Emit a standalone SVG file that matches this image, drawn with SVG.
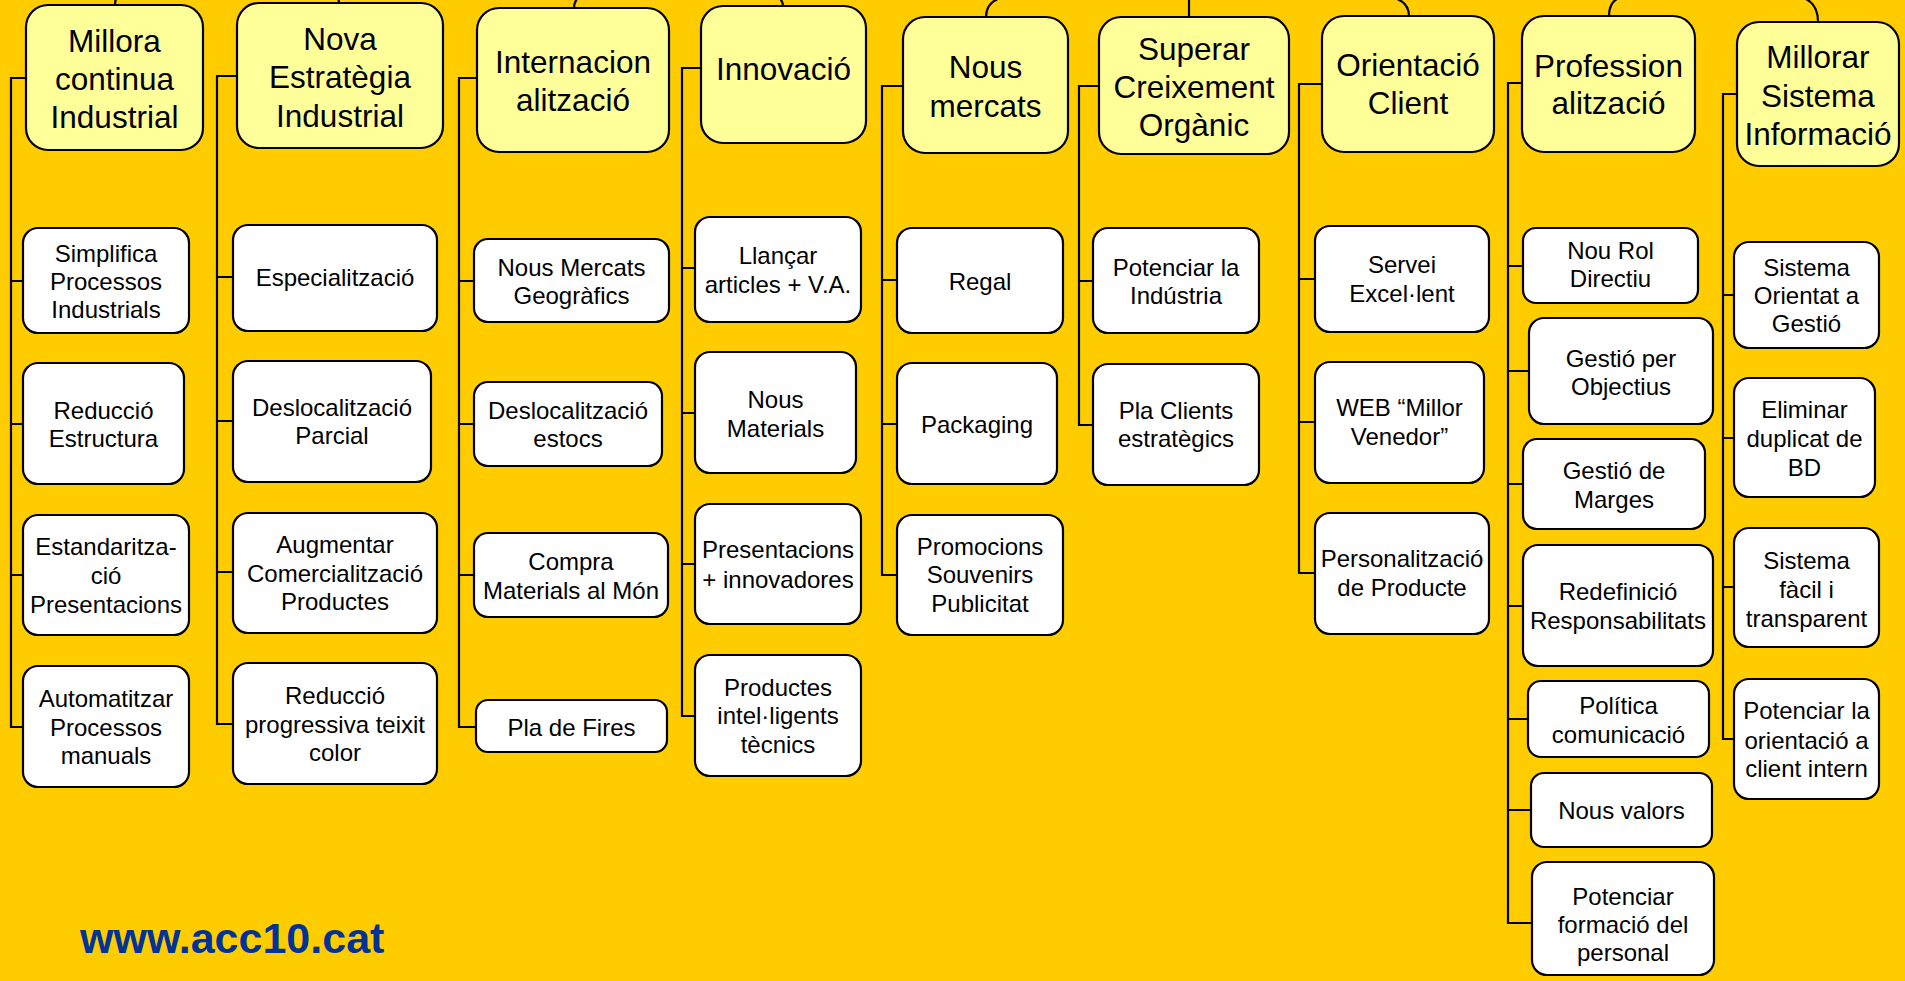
<svg xmlns="http://www.w3.org/2000/svg" width="1905" height="981" viewBox="0 0 1905 981">
  <style>
    .head rect { fill: #FFFF99; stroke: #000; stroke-width: 2.2; }
    .head text { font-family: "Liberation Sans", Arial, sans-serif; font-size: 31.5px; fill: #000; text-anchor: middle; }
    .leaf rect { fill: #FFFFFF; stroke: #000; stroke-width: 2.2; }
    .leaf text { font-family: "Liberation Sans", Arial, sans-serif; font-size: 24px; fill: #000; text-anchor: middle; }
    .wire { fill: none; stroke: #000; stroke-width: 2.2; }
    .footer { font-family: "Liberation Sans", Arial, sans-serif; font-size: 43px; font-weight: bold; fill: #003399; }
  </style>

  <rect x="0" y="0" width="1905" height="981" fill="#FFCC00"/>

  <!-- connectors -->
  <g id="connectors" class="wire">
    <!-- stubs running up to the parent level -->
    <path d="M115 5 Q115 0 117 -3"/>
    <path d="M339 3 Q339 0 337 -3"/>
    <path d="M574 8 Q574 0 581 -5"/>
    <path d="M783 6 Q783 0 776 -5"/>
    <path d="M986 17 Q986 1 1004 -3"/>
    <path d="M1189 17 V-2"/>
    <path d="M1409 16 Q1409 1 1391 -3"/>
    <path d="M1609 16 Q1609 1 1621 -3"/>
    <path d="M1818 22 Q1818 2 1801 -3"/>
    <!-- column trees -->
    <path d="M26 78 H11 V727 H23 M11 281 H23 M11 424 H23 M11 575 H23"/>
    <path d="M237 76 H217 V724 H233 M217 277 H233 M217 421 H233 M217 572 H233"/>
    <path d="M477 78 H459 V727 H476 M459 281 H474 M459 424 H474 M459 575 H474"/>
    <path d="M701 68 H682 V716 H695 M682 268 H695 M682 413 H695 M682 564 H695"/>
    <path d="M903 86 H882 V575 H897 M882 280 H897 M882 424 H897"/>
    <path d="M1099 86 H1079 V425 H1093 M1079 281 H1093"/>
    <path d="M1322 84 H1299 V573 H1315 M1299 279 H1315 M1299 422 H1315"/>
    <path d="M1522 83 H1508 V923 H1532 M1508 266 H1523 M1508 371 H1529 M1508 484 H1523 M1508 606 H1523 M1508 719 H1528 M1508 810 H1531"/>
    <path d="M1737 94 H1723 V739 H1734 M1723 295 H1734 M1723 438 H1734 M1723 587 H1734"/>
  </g>

  <!-- top-level headings -->
  <g id="h-millora" class="head">
    <rect x="26" y="5" width="177" height="145" rx="22"/>
    <text x="114.5"><tspan y="52" x="114.5">Millora</tspan><tspan y="90" x="114.5">continua</tspan><tspan y="128" x="114.5">Industrial</tspan></text>
  </g>
  <g id="h-nova" class="head">
    <rect x="237" y="3" width="206" height="145" rx="22"/>
    <text x="340"><tspan y="50" x="340">Nova</tspan><tspan y="88" x="340">Estratègia</tspan><tspan y="127" x="340">Industrial</tspan></text>
  </g>
  <g id="h-internacionalitzacio" class="head">
    <rect x="477" y="8" width="192" height="144" rx="22"/>
    <text x="573"><tspan y="73" x="573">Internacion</tspan><tspan y="111" x="573">alització</tspan></text>
  </g>
  <g id="h-innovacio" class="head">
    <rect x="701" y="6" width="165" height="137" rx="22"/>
    <text x="783.5" y="80">Innovació</text>
  </g>
  <g id="h-nous-mercats" class="head">
    <rect x="903" y="17" width="165" height="136" rx="22"/>
    <text x="985.5"><tspan y="78" x="985.5">Nous</tspan><tspan y="117" x="985.5">mercats</tspan></text>
  </g>
  <g id="h-superar" class="head">
    <rect x="1099" y="17" width="190" height="137" rx="22"/>
    <text x="1194"><tspan y="60" x="1194">Superar</tspan><tspan y="98" x="1194">Creixement</tspan><tspan y="136" x="1194">Orgànic</tspan></text>
  </g>
  <g id="h-orientacio" class="head">
    <rect x="1322" y="16" width="172" height="136" rx="22"/>
    <text x="1408"><tspan y="76" x="1408">Orientació</tspan><tspan y="114" x="1408">Client</tspan></text>
  </g>
  <g id="h-professionalitzacio" class="head">
    <rect x="1522" y="16" width="173" height="136" rx="22"/>
    <text x="1608.5"><tspan y="77" x="1608.5">Profession</tspan><tspan y="114" x="1608.5">alització</tspan></text>
  </g>
  <g id="h-millorar-sistema" class="head">
    <rect x="1737" y="22" width="162" height="144" rx="22"/>
    <text x="1818"><tspan y="68" x="1818">Millorar</tspan><tspan y="107" x="1818">Sistema</tspan><tspan y="145" x="1818">Informació</tspan></text>
  </g>

  <!-- column 1 -->
  <g id="n-simplifica" class="leaf">
    <rect x="23" y="228" width="166" height="105" rx="15"/>
    <text><tspan x="106" y="262">Simplifica</tspan><tspan x="106" y="290">Processos</tspan><tspan x="106" y="318">Industrials</tspan></text>
  </g>
  <g id="n-reduccio-estructura" class="leaf">
    <rect x="23" y="363" width="161" height="121" rx="15"/>
    <text><tspan x="103.5" y="419">Reducció</tspan><tspan x="103.5" y="447">Estructura</tspan></text>
  </g>
  <g id="n-estandaritzacio" class="leaf">
    <rect x="23" y="515" width="166" height="120" rx="15"/>
    <text><tspan x="106" y="555">Estandaritza-</tspan><tspan x="106" y="584">ció</tspan><tspan x="106" y="613">Presentacions</tspan></text>
  </g>
  <g id="n-automatitzar" class="leaf">
    <rect x="23" y="666" width="166" height="121" rx="15"/>
    <text><tspan x="106" y="707">Automatitzar</tspan><tspan x="106" y="736">Processos</tspan><tspan x="106" y="764">manuals</tspan></text>
  </g>

  <!-- column 2 -->
  <g id="n-especialitzacio" class="leaf">
    <rect x="233" y="225" width="204" height="106" rx="15"/>
    <text x="335" y="286">Especialització</text>
  </g>
  <g id="n-deslocalitzacio-parcial" class="leaf">
    <rect x="233" y="361" width="198" height="121" rx="15"/>
    <text><tspan x="332" y="416">Deslocalització</tspan><tspan x="332" y="444">Parcial</tspan></text>
  </g>
  <g id="n-augmentar" class="leaf">
    <rect x="233" y="513" width="204" height="120" rx="15"/>
    <text><tspan x="335" y="553">Augmentar</tspan><tspan x="335" y="582">Comercialització</tspan><tspan x="335" y="610">Productes</tspan></text>
  </g>
  <g id="n-reduccio-progressiva" class="leaf">
    <rect x="233" y="663" width="204" height="121" rx="15"/>
    <text><tspan x="335" y="704">Reducció</tspan><tspan x="335" y="733">progressiva teixit</tspan><tspan x="335" y="761">color</tspan></text>
  </g>

  <!-- column 3 -->
  <g id="n-nous-mercats-geografics" class="leaf">
    <rect x="474" y="239" width="195" height="83" rx="14"/>
    <text><tspan x="571.5" y="276">Nous Mercats</tspan><tspan x="571.5" y="304">Geogràfics</tspan></text>
  </g>
  <g id="n-deslocalitzacio-estocs" class="leaf">
    <rect x="474" y="382" width="188" height="84" rx="14"/>
    <text><tspan x="568" y="419">Deslocalització</tspan><tspan x="568" y="447">estocs</tspan></text>
  </g>
  <g id="n-compra-materials" class="leaf">
    <rect x="474" y="533" width="194" height="84" rx="14"/>
    <text><tspan x="571" y="570">Compra</tspan><tspan x="571" y="599">Materials al Món</tspan></text>
  </g>
  <g id="n-pla-fires" class="leaf">
    <rect x="476" y="700" width="191" height="52" rx="12"/>
    <text x="571.5" y="736">Pla de Fires</text>
  </g>

  <!-- column 4 -->
  <g id="n-llancar-articles" class="leaf">
    <rect x="695" y="217" width="166" height="105" rx="15"/>
    <text><tspan x="778" y="264">Llançar</tspan><tspan x="778" y="293">articles + V.A.</tspan></text>
  </g>
  <g id="n-nous-materials" class="leaf">
    <rect x="695" y="352" width="161" height="121" rx="15"/>
    <text><tspan x="775.5" y="408">Nous</tspan><tspan x="775.5" y="437">Materials</tspan></text>
  </g>
  <g id="n-presentacions-innovadores" class="leaf">
    <rect x="695" y="504" width="166" height="120" rx="15"/>
    <text><tspan x="778" y="558">Presentacions</tspan><tspan x="778" y="588">+ innovadores</tspan></text>
  </g>
  <g id="n-productes-intelligents" class="leaf">
    <rect x="695" y="655" width="166" height="121" rx="15"/>
    <text><tspan x="778" y="696">Productes</tspan><tspan x="778" y="724">intel·ligents</tspan><tspan x="778" y="753">tècnics</tspan></text>
  </g>

  <!-- column 5 -->
  <g id="n-regal" class="leaf">
    <rect x="897" y="228" width="166" height="105" rx="15"/>
    <text x="980" y="290">Regal</text>
  </g>
  <g id="n-packaging" class="leaf">
    <rect x="897" y="363" width="160" height="121" rx="15"/>
    <text x="977" y="433">Packaging</text>
  </g>
  <g id="n-promocions" class="leaf">
    <rect x="897" y="515" width="166" height="120" rx="15"/>
    <text><tspan x="980" y="555">Promocions</tspan><tspan x="980" y="583">Souvenirs</tspan><tspan x="980" y="612">Publicitat</tspan></text>
  </g>

  <!-- column 6 -->
  <g id="n-potenciar-industria" class="leaf">
    <rect x="1093" y="228" width="166" height="105" rx="15"/>
    <text><tspan x="1176" y="276">Potenciar la</tspan><tspan x="1176" y="304">Indústria</tspan></text>
  </g>
  <g id="n-pla-clients" class="leaf">
    <rect x="1093" y="364" width="166" height="121" rx="15"/>
    <text><tspan x="1176" y="419">Pla Clients</tspan><tspan x="1176" y="447">estratègics</tspan></text>
  </g>

  <!-- column 7 -->
  <g id="n-servei-excellent" class="leaf">
    <rect x="1315" y="226" width="174" height="106" rx="15"/>
    <text><tspan x="1402" y="273">Servei</tspan><tspan x="1402" y="302">Excel·lent</tspan></text>
  </g>
  <g id="n-web-millor-venedor" class="leaf">
    <rect x="1315" y="362" width="169" height="121" rx="15"/>
    <text><tspan x="1399.5" y="416">WEB “Millor</tspan><tspan x="1399.5" y="445">Venedor”</tspan></text>
  </g>
  <g id="n-personalitzacio" class="leaf">
    <rect x="1315" y="513" width="174" height="121" rx="15"/>
    <text><tspan x="1402" y="567">Personalització</tspan><tspan x="1402" y="596">de Producte</tspan></text>
  </g>

  <!-- column 8 -->
  <g id="n-nou-rol" class="leaf">
    <rect x="1523" y="228" width="175" height="75" rx="13"/>
    <text><tspan x="1610.5" y="259">Nou Rol</tspan><tspan x="1610.5" y="287">Directiu</tspan></text>
  </g>
  <g id="n-gestio-objectius" class="leaf">
    <rect x="1529" y="318" width="184" height="106" rx="15"/>
    <text><tspan x="1621" y="367">Gestió per</tspan><tspan x="1621" y="395">Objectius</tspan></text>
  </g>
  <g id="n-gestio-marges" class="leaf">
    <rect x="1523" y="439" width="182" height="90" rx="14"/>
    <text><tspan x="1614" y="479">Gestió de</tspan><tspan x="1614" y="508">Marges</tspan></text>
  </g>
  <g id="n-redefinicio" class="leaf">
    <rect x="1523" y="545" width="190" height="121" rx="15"/>
    <text><tspan x="1618" y="600">Redefinició</tspan><tspan x="1618" y="629">Responsabilitats</tspan></text>
  </g>
  <g id="n-politica-comunicacio" class="leaf">
    <rect x="1528" y="681" width="181" height="76" rx="13"/>
    <text><tspan x="1618.5" y="714">Política</tspan><tspan x="1618.5" y="743">comunicació</tspan></text>
  </g>
  <g id="n-nous-valors" class="leaf">
    <rect x="1531" y="773" width="181" height="74" rx="13"/>
    <text x="1621.5" y="819">Nous valors</text>
  </g>
  <g id="n-formacio-personal" class="leaf">
    <rect x="1532" y="862" width="182" height="113" rx="15"/>
    <text><tspan x="1623" y="905">Potenciar</tspan><tspan x="1623" y="933">formació del</tspan><tspan x="1623" y="961">personal</tspan></text>
  </g>

  <!-- column 9 -->
  <g id="n-sistema-orientat" class="leaf">
    <rect x="1734" y="242" width="145" height="106" rx="15"/>
    <text><tspan x="1806.5" y="276">Sistema</tspan><tspan x="1806.5" y="304">Orientat a</tspan><tspan x="1806.5" y="332">Gestió</tspan></text>
  </g>
  <g id="n-eliminar-duplicat" class="leaf">
    <rect x="1734" y="378" width="141" height="119" rx="15"/>
    <text><tspan x="1804.5" y="418">Eliminar</tspan><tspan x="1804.5" y="447">duplicat de</tspan><tspan x="1804.5" y="476">BD</tspan></text>
  </g>
  <g id="n-sistema-facil" class="leaf">
    <rect x="1734" y="528" width="145" height="119" rx="15"/>
    <text><tspan x="1806.5" y="569">Sistema</tspan><tspan x="1806.5" y="598">fàcil i</tspan><tspan x="1806.5" y="627">transparent</tspan></text>
  </g>
  <g id="n-client-intern" class="leaf">
    <rect x="1734" y="679" width="145" height="120" rx="15"/>
    <text><tspan x="1806.5" y="719">Potenciar la</tspan><tspan x="1806.5" y="749">orientació a</tspan><tspan x="1806.5" y="777">client intern</tspan></text>
  </g>

  <text class="footer" x="80" y="953">www.acc10.cat</text>
</svg>
